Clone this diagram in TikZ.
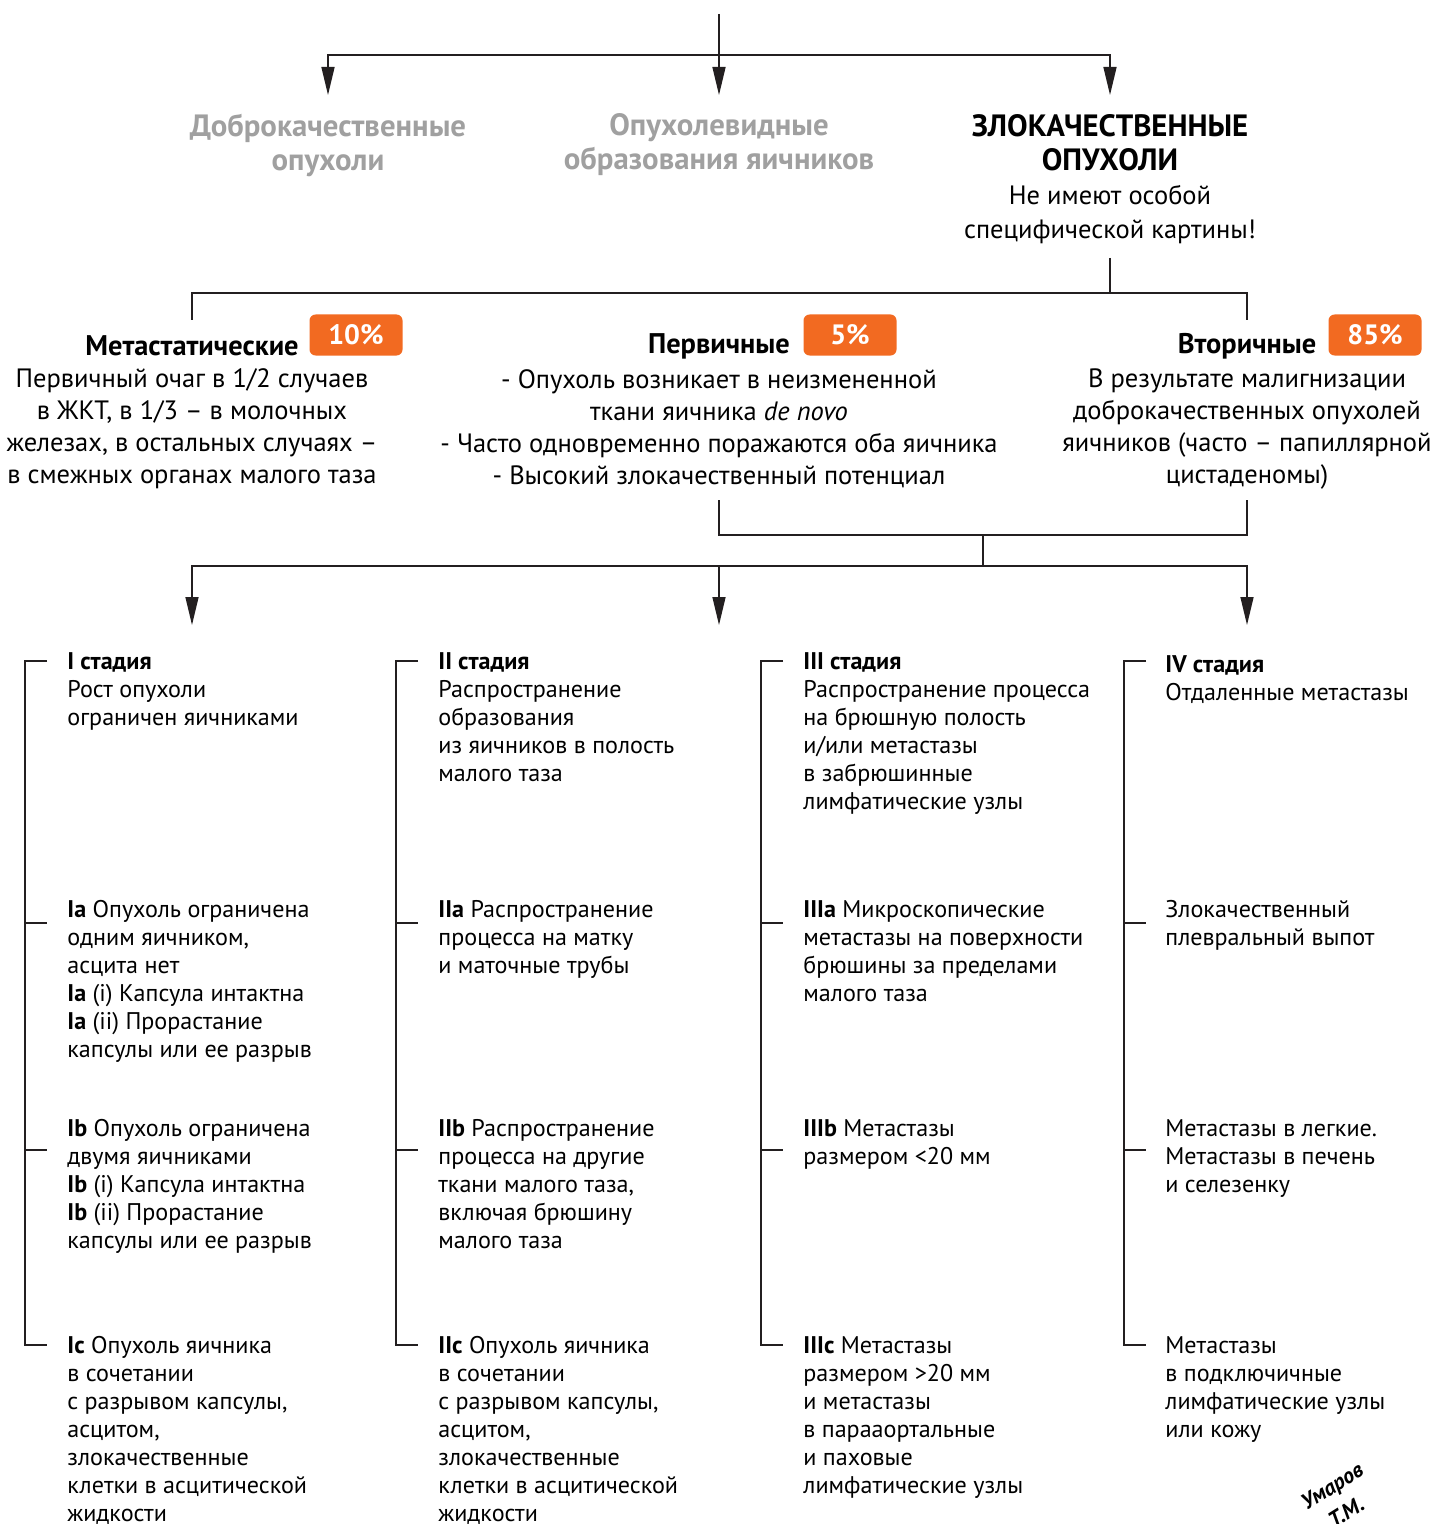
\documentclass[tikz,border=0pt]{standalone}
\usepackage{fontspec}
\setmainfont{PT Sans}
\usetikzlibrary{positioning, arrows.meta}
\definecolor{badgeorange}{HTML}{F26A21}
\definecolor{headgray}{HTML}{A0A0A0}
\definecolor{linegray}{HTML}{231F20}

\begin{document}
\begin{tikzpicture}[x=0.5pt, y=-0.5pt,
    conn/.style={draw=linegray, line width=0.75pt},
    arr/.style={conn, -{Triangle[length=14pt, width=6.5pt]}},
    toptext/.style={align=center, inner sep=0pt, font=\bfseries\fontsize{15.4}{17}\selectfont},
    subhead/.style={inner sep=0pt, font=\bfseries\fontsize{14.2}{16}\selectfont},
    badge/.style={fill=badgeorange, text=white, rounded corners=3pt, inner sep=0pt,
        minimum width=46.5pt, minimum height=20.5pt, font=\bfseries\fontsize{14}{16}\selectfont},
    body/.style={align=center, inner sep=0pt, font=\fontsize{13.25}{16}\selectfont},
    stagetxt/.style={align=left, anchor=north west, inner sep=0pt, font=\fontsize{12.05}{14}\selectfont}]

    \useasboundingbox (0,0) rectangle (1434,1524);

    % Top level
    \node[toptext, text=headgray] (benign) at (328,145) {Доброкачественные\\опухоли};
    \node[toptext, text=headgray] (tumlike) at (719,145) {Опухолевидные\\образования яичников};
    \node[toptext, align=center] (malig) at (1110,179)
        {ЗЛОКАЧЕСТВЕННЫЕ\\ОПУХОЛИ\\\mdseries\fontsize{13.25}{16}\selectfont Не имеют особой\\\mdseries\fontsize{13.25}{16}\selectfont специфической картины!};

    % Top connectors
    \coordinate (top) at (719,14);
    \coordinate (j1) at (719,55);
    \coordinate (aBen) at (328,95);
    \coordinate (aTum) at (719,95);
    \coordinate (aMal) at (1110,95);
    \draw[arr] (top) -- (aTum);
    \draw[arr] (j1) -| (aBen);
    \draw[arr] (j1) -| (aMal);

    % Second level
    \node[subhead] (meta) at (192,346) {Метастатические};
    \node[subhead] (prim) at (719,346) {Первичные};
    \node[subhead] (sec) at (1247,346) {Вторичные};
    \node[badge] (b10) at (356,335) {10\%};
    \node[badge] (b5) at (850,335) {5\%};
    \node[badge] (b85) at (1375,335) {85\%};

    \node[body] (metatxt) at (192,429) {Первичный очаг в 1/2 случаев\\в ЖКТ, в 1/3 – в молочных\\железах, в остальных случаях –\\в смежных органах малого таза};
    \node[body] (primtxt) at (719,429) {- Опухоль возникает в неизмененной\\ткани яичника \textit{de novo}\\- Часто одновременно поражаются оба яичника\\- Высокий злокачественный потенциал};
    \node[body] (sectxt) at (1247,429) {В результате малигнизации\\доброкачественных опухолей\\яичников (часто – папиллярной\\цистаденомы)};

    % Middle connectors
    \coordinate (m0) at (1110,258);
    \coordinate (m1) at (1110,293);
    \coordinate (cMeta) at (192,320);
    \coordinate (cSec) at (1247,320);
    \draw[conn] (m0) -- (m1);
    \draw[conn] (cMeta) |- (m1) -| (cSec);

    % Lower connectors
    \coordinate (p0) at (719,500);
    \coordinate (s0) at (1247,500);
    \coordinate (k1) at (983,535);
    \coordinate (k2) at (983,566);
    \coordinate (aS1) at (192,625);
    \coordinate (aS2) at (719,625);
    \coordinate (aS3) at (1247,625);
    \draw[conn] (p0) |- (k1) -| (s0);
    \draw[conn] (k1) -- (k2);
    \draw[arr] (k2) -| (aS1);
    \draw[arr] (k2) -| (aS3);
    \draw[arr] (aS2 |- k2) -- (aS2);

    % Stage brackets
    \foreach \bx in {25,396,761,1124} {
        \draw[conn] (\bx+22,661) -- (\bx,661) -- (\bx,1345) -- (\bx+22,1345);
        \draw[conn] (\bx,923) -- (\bx+22,923);
        \draw[conn] (\bx,1150) -- (\bx+22,1150);
    }

    % Stage I
    \node[stagetxt] (s1) at (67,652) {\textbf{I стадия}\\Рост опухоли\\ограничен яичниками};
    \node[stagetxt] (s1a) at (67,900) {\textbf{Ia} Опухоль ограничена\\одним яичником,\\асцита нет\\\textbf{Ia} (i) Капсула интактна\\\textbf{Ia} (ii) Прорастание\\капсулы или ее разрыв};
    \node[stagetxt] (s1b) at (67,1119) {\textbf{Ib} Опухоль ограничена\\двумя яичниками\\\textbf{Ib} (i) Капсула интактна\\\textbf{Ib} (ii) Прорастание\\капсулы или ее разрыв};
    \node[stagetxt] (s1c) at (67,1336) {\textbf{Ic} Опухоль яичника\\в сочетании\\с разрывом капсулы,\\асцитом,\\злокачественные\\клетки в асцитической\\жидкости};

    % Stage II
    \node[stagetxt] (s2) at (438,652) {\textbf{II стадия}\\Распространение\\образования\\из яичников в полость\\малого таза};
    \node[stagetxt] (s2a) at (438,900) {\textbf{IIa} Распространение\\процесса на матку\\и маточные трубы};
    \node[stagetxt] (s2b) at (438,1119) {\textbf{IIb} Распространение\\процесса на другие\\ткани малого таза,\\включая брюшину\\малого таза};
    \node[stagetxt] (s2c) at (438,1336) {\textbf{IIc} Опухоль яичника\\в сочетании\\с разрывом капсулы,\\асцитом,\\злокачественные\\клетки в асцитической\\жидкости};

    % Stage III
    \node[stagetxt] (s3) at (803,652) {\textbf{III стадия}\\Распространение процесса\\на брюшную полость\\и/или метастазы\\в забрюшинные\\лимфатические узлы};
    \node[stagetxt] (s3a) at (803,900) {\textbf{IIIa} Микроскопические\\метастазы на поверхности\\брюшины за пределами\\малого таза};
    \node[stagetxt] (s3b) at (803,1119) {\textbf{IIIb} Метастазы\\размером <20 мм};
    \node[stagetxt] (s3c) at (803,1336) {\textbf{IIIc} Метастазы\\размером >20 мм\\и метастазы\\в парааортальные\\и паховые\\лимфатические узлы};

    % Stage IV
    \node[stagetxt] (s4) at (1165,655) {\textbf{IV стадия}\\Отдаленные метастазы};
    \node[stagetxt] (s4a) at (1165,900) {Злокачественный\\плевральный выпот};
    \node[stagetxt] (s4b) at (1165,1119) {Метастазы в легкие.\\Метастазы в печень\\и селезенку};
    \node[stagetxt] (s4c) at (1165,1336) {Метастазы\\в подключичные\\лимфатические узлы\\или кожу};

    % Signature
    \node[rotate=32, inner sep=0pt, font=\bfseries\itshape\fontsize{11}{11}\selectfont] (sign1) at (1333,1488) {Умаров};
    \node[rotate=32, inner sep=0pt, font=\bfseries\itshape\fontsize{11}{11}\selectfont] (sign2) at (1346,1512) {Т.М.};

\end{tikzpicture}
\end{document}
